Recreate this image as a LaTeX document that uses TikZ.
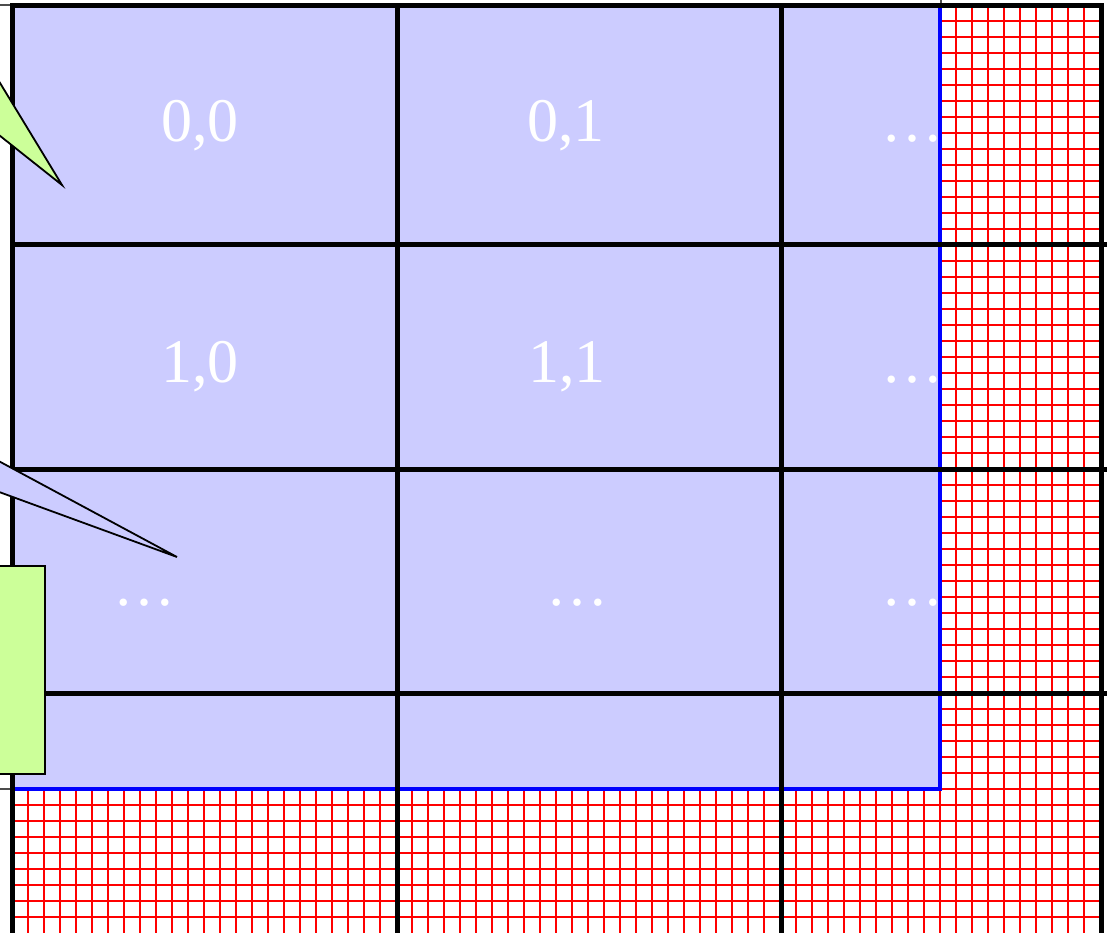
\documentclass[tikz,border=0pt]{standalone}
\usepackage{fontspec}
\setmainfont{Liberation Serif}
\definecolor{cellblue}{HTML}{CCCCFF}
\definecolor{callgreen}{HTML}{CCFF99}
\tikzset{
  redgrid/.style={draw=red, line width=1.8pt},
  blackline/.style={draw=black, line width=5pt},
  blueline/.style={draw=blue, line width=4.5pt},
  thinline/.style={draw=black!70, line width=1.2pt},
  celltext/.style={text=white, anchor=base, inner sep=0pt, font=\fontsize{62}{62}\selectfont},
  wedge/.style={draw=black, line width=1.8pt, line join=miter},
}
\begin{document}
\begin{tikzpicture}[x=1pt,y=-1pt]
\useasboundingbox (0,0) rectangle (1107,933);
\clip (0,0) rectangle (1107,933);
% red fine grid
\foreach \x in {28,44,...,1100} \draw[redgrid] (\x,6) -- (\x,933);
\foreach \y in {21,37,...,917} \draw[redgrid] (12,\y) -- (1101,\y);
% blue region
\fill[cellblue] (12,6) rectangle (940,789);
\draw[blueline] (940,4) -- (940,789) -- (10,789);
% thin fragments
\draw[thinline] (0,5) -- (12,5);
\draw[thinline] (941,0) -- (941,6);
\draw[thinline] (0,789) -- (12,789);
% black grid
\foreach \x in {12,397,781,1101} \draw[blackline] (\x,4) -- (\x,933);
\draw[blackline] (10,6) -- (1103.5,6);
\foreach \y in {244,469,693} \draw[blackline] (12,\y) -- (1107,\y);
% texts
\node[celltext] (t00) at (200,142) {0,0};
\node[celltext] (t01) at (566,142) {0,1};
\node[celltext] (t02) at (912,142) {\dots};
\node[celltext] (t10) at (200,382) {1,0};
\node[celltext] (t11) at (567,382) {1,1};
\node[celltext] (t12) at (912,382) {\dots};
\node[celltext] (t20) at (144,605) {\dots};
\node[celltext] (t21) at (577,605) {\dots};
\node[celltext] (t22) at (912,605) {\dots};
% callouts
\coordinate (tipA) at (62,185);
\coordinate (tipB) at (177,557);
\draw[wedge, fill=callgreen] (-20,50) -- (tipA) -- (-20,120);
\draw[wedge, fill=cellblue] (-20,451) -- (tipB) -- (-20,485);
\node[draw=black, line width=2.2pt, fill=callgreen, minimum width=85pt, minimum height=208pt, inner sep=0pt] (box) at (2.5,670) {};
\end{tikzpicture}
\end{document}
